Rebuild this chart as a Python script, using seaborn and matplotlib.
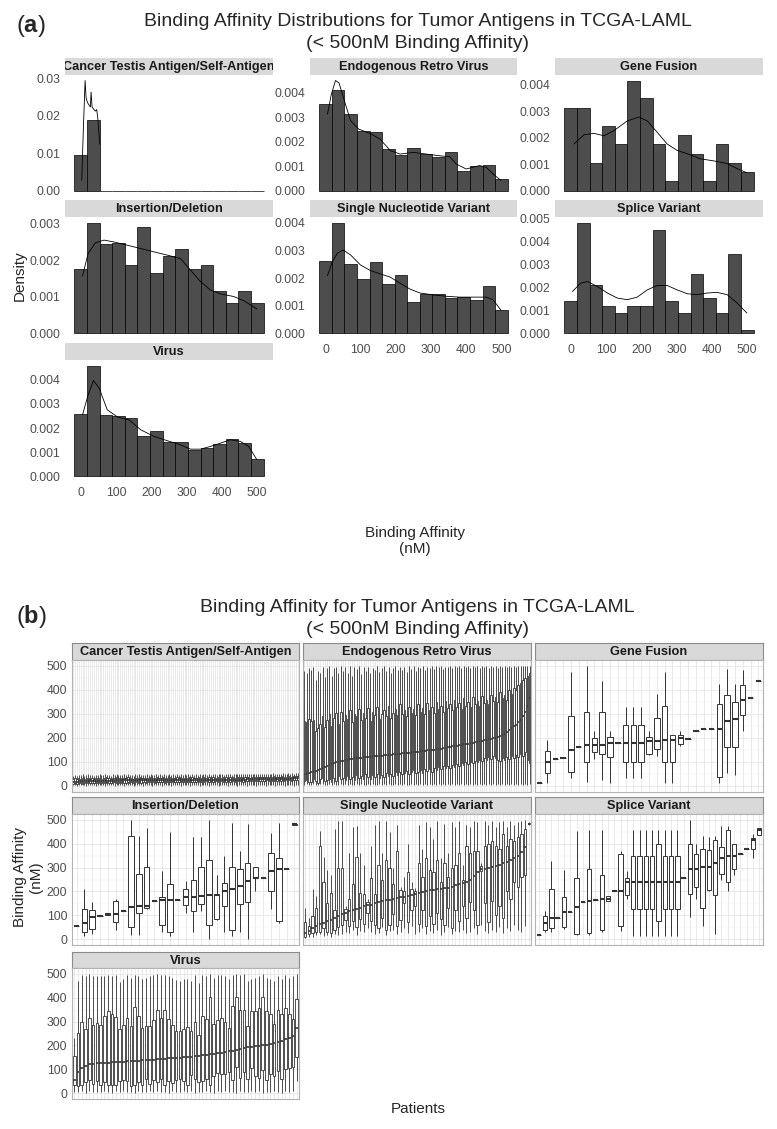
import numpy as np
import pandas as pd
import matplotlib
matplotlib.use("Agg")
import matplotlib.pyplot as plt
from matplotlib.ticker import MultipleLocator
import seaborn as sns

W, H = 777, 1129

# ---------------- (a) histogram data (density per bin)
bin_centres = [0, 35.7, 71.4, 107.1, 142.9, 178.6, 214.3, 250, 285.7, 321.4, 357.1, 392.9, 428.6, 464.3, 500]

hist_cta = [0.0095, 0.0190, 0, 0, 0, 0, 0, 0, 0, 0, 0, 0, 0, 0, 0]
hist_erv = [0.00355, 0.00411, 0.00312, 0.00244, 0.00239, 0.00168, 0.00144, 0.00174,
            0.00149, 0.00136, 0.00159, 0.00081, 0.00099, 0.00104, 0.00046]
hist_gf = [0.00313, 0.00313, 0.00103, 0.00244, 0.00174, 0.00416, 0.00348, 0.00174,
           0.00036, 0.00209, 0.00139, 0.00036, 0.00174, 0.00103, 0.00071]
hist_indel = [0.00176, 0.00303, 0.00244, 0.00246, 0.00186, 0.00291, 0.00164, 0.00212,
              0.00232, 0.00176, 0.00186, 0.00117, 0.00083, 0.00117, 0.00083]
hist_snv = [0.00263, 0.00400, 0.00251, 0.00197, 0.00257, 0.00178, 0.00210, 0.00112,
            0.00144, 0.00144, 0.00127, 0.00130, 0.00121, 0.00171, 0.00086]
hist_splice = [0.00140, 0.00483, 0.00209, 0.00120, 0.00087, 0.00120, 0.00120, 0.00450,
               0.00140, 0.00087, 0.00260, 0.00155, 0.00087, 0.00345, 0.00017]
hist_virus = [0.00259, 0.00459, 0.00255, 0.00251, 0.00241, 0.00168, 0.00189, 0.00141,
              0.00143, 0.00108, 0.00117, 0.00134, 0.00157, 0.00138, 0.00072]

# density curves (x in nM, y density)
kde_cta_x = [2.8, 7.5, 12.3, 15.1, 18.9, 23.6, 27.4, 29.2, 32.1, 36.8, 41.5, 45.3, 49.1, 53.8]
kde_cta_y = [0.0027, 0.0169, 0.0295, 0.0249, 0.0236, 0.0229, 0.0224, 0.0264, 0.0224, 0.0218,
             0.0213, 0.0217, 0.0186, 0.0124]
kde_erv_x = [5, 16, 28, 38, 52, 71, 94, 127, 155, 184, 212, 250, 287, 325, 353, 372, 400, 438, 457, 476, 499]
kde_erv_y = [0.00312, 0.00393, 0.00450, 0.00440, 0.00373, 0.00285, 0.00251, 0.00233, 0.00210, 0.00163,
             0.00149, 0.00156, 0.00149, 0.00142, 0.00138, 0.00108, 0.00088, 0.00102, 0.00095, 0.00068, 0.00041]
kde_gf_x = [9, 38, 66, 94, 122, 160, 193, 217, 245, 273, 301, 330, 367, 405, 443, 471, 499]
kde_gf_y = [0.00176, 0.00211, 0.00216, 0.00207, 0.00226, 0.00263, 0.00278, 0.00263, 0.00220,
            0.00176, 0.00152, 0.00139, 0.00120, 0.00112, 0.00102, 0.00083, 0.00067]
kde_indel_x = [5, 21, 42, 66, 94, 132, 170, 207, 245, 282, 311, 339, 367, 396, 433, 461, 499]
kde_indel_y = [0.00157, 0.00219, 0.00248, 0.00255, 0.00250, 0.00241, 0.00232, 0.00223, 0.00214,
               0.00205, 0.00173, 0.00142, 0.00119, 0.00108, 0.00101, 0.00090, 0.00067]
kde_snv_x = [5, 19, 33, 50, 71, 99, 127, 155, 184, 212, 240, 268, 306, 344, 381, 419, 457, 476, 499]
kde_snv_y = [0.00208, 0.00259, 0.00289, 0.00301, 0.00283, 0.00247, 0.00227, 0.00215, 0.00203, 0.00181,
             0.00160, 0.00146, 0.00139, 0.00134, 0.00131, 0.00131, 0.00131, 0.00122, 0.00084]
kde_splice_x = [5, 28, 47, 75, 104, 132, 160, 188, 217, 245, 273, 301, 330, 358, 386, 414, 443, 471, 499]
kde_splice_y = [0.00183, 0.00219, 0.00226, 0.00205, 0.00176, 0.00154, 0.00147, 0.00158, 0.00190, 0.00209,
                0.00209, 0.00190, 0.00173, 0.00169, 0.00176, 0.00179, 0.00169, 0.00133, 0.00089]
kde_virus_x = [5, 21, 36, 52, 75, 104, 137, 170, 207, 245, 282, 311, 339, 367, 396, 424, 452, 476, 499]
kde_virus_y = [0.00255, 0.00338, 0.00397, 0.00366, 0.00276, 0.00246, 0.00234, 0.00193, 0.00166, 0.00148,
               0.00131, 0.00113, 0.00113, 0.00124, 0.00138, 0.00152, 0.00145, 0.00124, 0.00069]

# ---------------- (b) per patient box stats: (lower whisker, Q1, median, Q3, upper whisker)
box_cta = [
    (3, 10, 17, 30, 42), (5, 12, 18, 32, 45), (2, 9, 18, 29, 40), (4, 11, 19, 33, 46), (6, 13, 19, 31, 44),
    (3, 10, 19, 34, 48), (5, 12, 20, 30, 43), (2, 11, 20, 32, 45), (4, 13, 20, 35, 49), (6, 12, 20, 31, 44),
    (3, 11, 21, 33, 46), (5, 14, 21, 30, 42), (2, 12, 21, 34, 47), (4, 13, 21, 32, 45), (6, 11, 21, 35, 50),
    (3, 14, 22, 31, 44), (5, 12, 22, 33, 46), (2, 13, 22, 36, 49), (4, 15, 22, 32, 45), (6, 12, 22, 34, 47),
    (3, 14, 22, 31, 43), (5, 13, 22, 35, 48), (2, 15, 22, 33, 46), (4, 12, 23, 36, 50), (6, 14, 23, 32, 45),
    (3, 13, 23, 34, 47), (5, 16, 23, 31, 44), (2, 14, 23, 35, 48), (4, 12, 23, 33, 46), (6, 15, 23, 36, 49),
    (3, 13, 23, 32, 45), (5, 16, 23, 34, 47), (2, 14, 23, 31, 43), (4, 15, 23, 35, 48), (6, 13, 24, 33, 46),
    (3, 16, 24, 36, 50), (5, 14, 24, 32, 45), (2, 15, 24, 34, 47), (4, 17, 24, 31, 44), (6, 14, 24, 35, 48),
    (3, 16, 24, 33, 46), (5, 15, 24, 36, 49), (2, 17, 24, 32, 45), (4, 14, 24, 34, 47), (6, 16, 24, 37, 50),
    (3, 15, 24, 33, 46), (5, 17, 24, 35, 48), (2, 15, 25, 32, 45), (4, 16, 25, 36, 49), (6, 14, 25, 34, 47),
    (3, 17, 25, 33, 46), (5, 15, 25, 37, 50), (2, 16, 25, 32, 45), (4, 18, 25, 35, 48), (6, 15, 25, 34, 47),
    (3, 17, 25, 36, 49), (5, 16, 25, 33, 46), (2, 18, 25, 37, 50), (4, 15, 25, 34, 47), (6, 17, 25, 35, 48),
    (3, 16, 25, 33, 46), (5, 18, 25, 36, 49), (2, 17, 25, 34, 47), (4, 16, 26, 37, 50), (6, 18, 26, 33, 46),
    (3, 17, 26, 35, 48), (5, 19, 26, 34, 47), (2, 16, 26, 36, 49), (4, 18, 26, 33, 46), (6, 17, 26, 37, 50),
    (3, 19, 26, 35, 48), (5, 18, 26, 34, 47), (2, 17, 26, 36, 49), (4, 19, 26, 33, 46), (6, 18, 26, 38, 51),
    (3, 17, 26, 35, 48), (5, 19, 26, 34, 47), (2, 18, 26, 37, 50), (4, 20, 27, 35, 48), (6, 18, 27, 36, 49),
    (3, 19, 27, 34, 47), (5, 17, 27, 38, 51), (2, 20, 27, 35, 48), (4, 18, 27, 36, 49), (6, 19, 27, 34, 47),
    (3, 21, 27, 38, 51), (5, 18, 27, 35, 48), (2, 20, 27, 37, 50), (4, 19, 27, 36, 49), (6, 21, 27, 38, 51),
    (3, 18, 27, 35, 48), (5, 20, 27, 37, 50), (2, 19, 28, 36, 49), (4, 21, 28, 38, 51), (6, 20, 28, 35, 48),
    (3, 19, 28, 37, 50), (5, 22, 28, 36, 49), (2, 20, 28, 39, 52), (4, 21, 28, 37, 50), (6, 19, 28, 36, 49),
    (3, 22, 28, 38, 51), (5, 20, 28, 37, 50), (2, 21, 29, 39, 52), (4, 23, 29, 36, 49), (6, 21, 29, 38, 51),
    (3, 22, 29, 37, 50), (5, 20, 29, 40, 53), (2, 23, 29, 38, 51), (4, 21, 29, 37, 50), (6, 24, 30, 39, 52),
    (3, 22, 30, 38, 51), (5, 23, 30, 40, 53), (2, 21, 30, 37, 50), (4, 24, 30, 39, 52), (6, 23, 31, 41, 54),
    (3, 22, 31, 38, 51), (5, 25, 32, 40, 53), (2, 24, 32, 39, 52), (4, 26, 33, 41, 54), (6, 25, 34, 42, 55),
]

box_erv = [
    (5, 20, 50, 270, 480), (8, 25, 52, 265, 470), (4, 18, 55, 280, 490), (6, 15, 58, 270, 485), (10, 30, 60, 275, 495),
    (5, 22, 63, 230, 440), (3, 12, 67, 240, 480), (7, 28, 72, 260, 470), (9, 35, 76, 290, 495), (4, 20, 80, 245, 455),
    (6, 25, 84, 275, 490), (8, 30, 88, 300, 498), (5, 18, 92, 250, 460), (7, 33, 95, 285, 490), (3, 22, 98, 305, 495),
    (6, 40, 101, 260, 470), (9, 28, 104, 310, 499), (4, 35, 106, 270, 480), (8, 25, 108, 295, 496), (5, 42, 110, 280, 470),
    (7, 30, 112, 315, 498), (4, 38, 113, 265, 460), (6, 27, 115, 300, 494), (9, 45, 116, 290, 488), (5, 33, 117, 320, 499),
    (8, 40, 118, 275, 465), (3, 29, 119, 305, 495), (6, 48, 120, 285, 480), (7, 36, 121, 325, 497), (4, 31, 122, 270, 470),
    (9, 44, 123, 310, 492), (5, 37, 124, 295, 485), (6, 52, 125, 330, 499), (8, 34, 126, 280, 475), (4, 46, 127, 300, 490),
    (7, 39, 128, 315, 498), (5, 55, 129, 290, 480), (9, 41, 130, 335, 496), (6, 50, 131, 285, 470), (3, 43, 132, 305, 493),
    (8, 57, 133, 320, 499), (5, 45, 134, 295, 482), (7, 60, 135, 340, 497), (4, 48, 136, 300, 485), (9, 53, 137, 315, 495),
    (6, 62, 138, 290, 475), (5, 49, 139, 330, 498), (8, 58, 140, 305, 488), (3, 65, 141, 320, 499), (7, 54, 142, 295, 480),
    (6, 60, 143, 340, 496), (9, 68, 144, 310, 490), (4, 56, 145, 325, 499), (8, 70, 146, 300, 482), (5, 63, 148, 345, 497),
    (7, 72, 149, 315, 492), (6, 59, 150, 330, 499), (9, 75, 152, 305, 486), (4, 66, 153, 350, 498), (8, 78, 155, 320, 494),
    (5, 70, 156, 335, 499), (7, 82, 158, 310, 488), (6, 74, 159, 355, 497), (9, 85, 161, 325, 495), (4, 77, 163, 340, 499),
    (8, 88, 165, 315, 490), (5, 80, 166, 360, 498), (7, 92, 168, 330, 496), (6, 84, 170, 345, 499), (9, 95, 172, 320, 492),
    (4, 88, 173, 365, 498), (8, 98, 175, 335, 495), (5, 92, 177, 350, 499), (7, 102, 179, 330, 490), (6, 95, 181, 370, 498),
    (9, 105, 183, 340, 496), (4, 99, 185, 355, 499), (8, 110, 186, 335, 492), (5, 103, 188, 375, 498), (7, 115, 190, 345, 495),
    (6, 108, 192, 360, 499), (9, 120, 194, 340, 490), (4, 112, 196, 380, 498), (8, 125, 198, 355, 496), (5, 118, 200, 370, 499),
    (7, 110, 203, 350, 492), (6, 104, 207, 390, 498), (9, 115, 212, 365, 496), (4, 108, 218, 380, 499), (8, 120, 225, 360, 494),
    (5, 112, 233, 400, 499), (7, 125, 240, 385, 497), (6, 118, 248, 410, 499), (9, 130, 256, 400, 496), (4, 120, 265, 420, 499),
    (8, 135, 275, 430, 498), (5, 125, 290, 440, 499), (7, 140, 310, 450, 499), (6, 110, 335, 460, 499), (9, 95, 365, 470, 499),
]

box_gf = [
    (11, 11, 11, 11, 11), (11, 55, 102, 147, 193), (113, 113, 113, 113, 113), (115, 115, 115, 115, 115),
    (35, 60, 150, 291, 473), (161, 161, 161, 161, 161), (15, 102, 169, 310, 499), (112, 140, 172, 200, 231),
    (25, 134, 172, 310, 438), (11, 120, 179, 203, 228), (178, 178, 178, 178, 178), (32, 102, 179, 253, 329),
    (32, 102, 179, 253, 329), (32, 102, 179, 253, 329), (130, 134, 186, 203, 228), (123, 154, 186, 284, 382),
    (11, 99, 193, 333, 473), (11, 99, 193, 211, 214), (165, 176, 200, 211, 231), (197, 197, 197, 197, 197),
    (231, 231, 231, 231, 231), (239, 239, 239, 239, 239), (239, 239, 239, 239, 239), (11, 39, 239, 340, 424),
    (53, 161, 270, 380, 487), (46, 161, 280, 352, 427), (228, 294, 357, 420, 485), (368, 368, 368, 368, 368),
    (438, 438, 438, 438, 438),
]

box_indel = [
    (56, 56, 56, 56, 56), (14, 31, 66, 128, 212), (21, 42, 91, 122, 154), (98, 98, 98, 98, 98),
    (99, 101, 105, 108, 110), (39, 70, 105, 161, 170), (116, 116, 116, 116, 116), (17, 49, 135, 433, 499),
    (17, 109, 140, 275, 433), (128, 130, 140, 304, 468), (161, 161, 161, 161, 161), (31, 59, 165, 175, 284),
    (11, 31, 165, 230, 451), (165, 165, 165, 165, 165), (109, 142, 176, 209, 244), (31, 119, 176, 250, 427),
    (119, 149, 182, 304, 427), (0, 60, 184, 331, 499), (81, 84, 186, 189, 268), (31, 140, 200, 237, 349),
    (14, 39, 209, 304, 489), (28, 147, 221, 293, 370), (0, 156, 244, 318, 482), (200, 256, 258, 304, 304),
    (258, 258, 258, 258, 258), (126, 203, 284, 363, 444), (66, 77, 293, 341, 489), (293, 293, 293, 293, 293),
    (478, 480, 482, 485, 488),
]

box_snv = [
    (5, 10, 25, 70, 130), (8, 20, 35, 55, 90), (10, 25, 45, 95, 210), (15, 30, 56, 130, 180), (20, 28, 62, 390, 454),
    (12, 45, 68, 240, 345), (18, 30, 74, 150, 290), (10, 25, 82, 195, 270), (22, 40, 90, 120, 460), (15, 50, 97, 300, 495),
    (20, 60, 104, 300, 495), (30, 80, 110, 125, 140), (25, 55, 117, 170, 360), (40, 75, 122, 230, 470), (18, 50, 127, 345, 475),
    (35, 85, 132, 195, 360), (28, 65, 137, 190, 310), (45, 110, 141, 155, 170), (30, 75, 145, 255, 390), (20, 60, 150, 190, 480),
    (25, 45, 155, 310, 495), (50, 90, 160, 250, 360), (15, 40, 163, 330, 495), (35, 60, 166, 300, 450), (40, 105, 169, 230, 300),
    (20, 55, 172, 370, 480), (30, 80, 175, 205, 220), (45, 150, 178, 200, 260), (25, 70, 181, 280, 400), (55, 120, 184, 210, 240),
    (20, 140, 188, 200, 215), (30, 65, 192, 320, 480), (45, 120, 196, 260, 380), (20, 55, 200, 340, 490), (35, 95, 205, 290, 470),
    (25, 65, 207, 280, 420), (40, 110, 209, 330, 495), (18, 85, 211, 240, 340), (30, 60, 213, 320, 485), (50, 130, 215, 260, 360),
    (22, 45, 220, 300, 490), (35, 120, 226, 310, 470), (28, 75, 232, 360, 495), (40, 140, 236, 250, 310), (25, 90, 240, 390, 480),
    (30, 155, 250, 360, 470), (45, 120, 265, 370, 495), (20, 60, 280, 370, 490), (60, 285, 292, 305, 320), (35, 150, 296, 390, 495),
    (25, 70, 300, 400, 480), (40, 160, 304, 410, 495), (30, 100, 308, 390, 470), (50, 140, 312, 380, 490), (25, 90, 318, 440, 495),
    (45, 200, 324, 390, 470), (35, 170, 330, 420, 495), (60, 240, 340, 410, 480), (40, 220, 350, 430, 490), (30, 260, 365, 440, 495),
    (55, 270, 385, 460, 498), (480, 482, 485, 488, 490),
]

box_splice = [
    (17, 17, 17, 17, 17), (28, 38, 67, 98, 119), (28, 45, 87, 209, 328), (87, 87, 87, 87, 87),
    (42, 49, 112, 177, 289), (112, 112, 112, 112, 112), (17, 21, 135, 258, 454), (154, 154, 154, 154, 154),
    (17, 25, 161, 296, 457), (165, 165, 165, 165, 165), (28, 39, 170, 268, 457), (158, 161, 170, 179, 182),
    (203, 203, 203, 203, 203), (35, 56, 203, 356, 370), (170, 184, 240, 256, 286), (14, 128, 240, 349, 457),
    (14, 128, 240, 349, 457), (14, 128, 240, 349, 457), (14, 128, 240, 349, 457), (14, 74, 240, 401, 457),
    (14, 128, 240, 349, 457), (14, 128, 240, 349, 457), (14, 128, 240, 349, 457), (258, 258, 258, 258, 258),
    (91, 191, 293, 398, 499), (170, 219, 293, 356, 398), (56, 130, 303, 380, 433), (200, 207, 304, 373, 429),
    (21, 184, 318, 415, 433), (250, 272, 342, 388, 475), (200, 240, 349, 457, 475), (270, 296, 349, 401, 401),
    (359, 359, 359, 359, 359), (380, 380, 380, 380, 380), (342, 377, 415, 423, 440), (436, 436, 457, 468, 468),
]

box_virus = [
    (5, 32, 56, 154, 233), (3, 30, 90, 254, 470), (8, 35, 105, 300, 495), (2, 45, 115, 270, 490), (10, 55, 122, 315, 500),
    (4, 38, 124, 285, 490), (6, 50, 125, 295, 490), (3, 35, 126, 285, 490), (8, 48, 127, 325, 492), (5, 32, 128, 345, 495),
    (2, 35, 129, 330, 490), (7, 32, 130, 320, 495), (4, 50, 131, 270, 465), (9, 55, 132, 285, 480), (3, 52, 133, 315, 495),
    (6, 30, 134, 280, 485), (2, 34, 135, 362, 495), (8, 48, 136, 325, 490), (5, 32, 137, 275, 480), (3, 58, 138, 280, 485),
    (7, 36, 139, 280, 490), (4, 56, 140, 305, 495), (9, 45, 141, 348, 500), (3, 60, 142, 315, 495), (6, 33, 144, 350, 495),
    (2, 50, 146, 310, 490), (8, 42, 147, 285, 485), (5, 55, 148, 260, 475), (3, 60, 149, 260, 470), (7, 52, 150, 270, 480),
    (4, 35, 151, 278, 480), (9, 75, 152, 260, 470), (2, 58, 154, 300, 495), (6, 45, 156, 245, 460), (3, 50, 158, 325, 495),
    (8, 60, 160, 310, 490), (5, 35, 162, 405, 500), (2, 70, 165, 290, 485), (7, 85, 167, 305, 495), (4, 78, 170, 315, 495),
    (9, 80, 173, 300, 490), (3, 90, 175, 275, 480), (6, 55, 178, 365, 495), (2, 110, 182, 405, 500), (8, 65, 186, 350, 495),
    (5, 90, 190, 350, 498), (3, 60, 193, 280, 470), (7, 105, 195, 345, 480), (4, 72, 197, 345, 485), (9, 65, 199, 355, 490),
    (2, 95, 200, 405, 500), (6, 55, 203, 345, 485), (3, 80, 207, 330, 480), (8, 70, 212, 290, 470), (5, 92, 215, 350, 490),
    (2, 60, 219, 330, 480), (7, 100, 225, 355, 495), (4, 105, 232, 330, 485), (9, 110, 240, 310, 490), (50, 150, 271, 393, 500),
]

sns.set_style("white")
plt.rcParams["font.family"] = ["Liberation Sans", "DejaVu Sans"]
plt.rcParams["mathtext.fontset"] = "custom"
plt.rcParams["mathtext.rm"] = "Liberation Sans"
plt.rcParams["mathtext.bf"] = "Liberation Sans:bold"

fig = plt.figure(figsize=(W / 100, H / 100), dpi=100)


def px_rect(left, top, right, bottom):
    return [left / W, 1 - bottom / H, (right - left) / W, (bottom - top) / H]


def add_strip(left, top, right, bottom, label, border):
    sax = fig.add_axes(px_rect(left, top, right, bottom))
    sax.set_facecolor("#D9D9D9")
    sax.set_xticks([])
    sax.set_yticks([])
    for sp in sax.spines.values():
        sp.set_visible(border)
        sp.set_color("#8C8C8C")
        sp.set_linewidth(0.8)
    sax.text(0.5, 0.46, label, ha="center", va="center", fontsize=9.2, fontweight="bold",
             color="#1A1A1A", transform=sax.transAxes, clip_on=True)


# ---------------- (a) distributions
bin_w = bin_centres[1] - bin_centres[0]
bin_edges = [c - bin_w / 2 for c in bin_centres] + [bin_centres[-1] + bin_w / 2]
x_span = bin_edges[-1] - bin_edges[0]

facets_a = [
    ("Cancer Testis Antigen/Self-Antigen", hist_cta, kde_cta_x, kde_cta_y),
    ("Endogenous Retro Virus", hist_erv, kde_erv_x, kde_erv_y),
    ("Gene Fusion", hist_gf, kde_gf_x, kde_gf_y),
    ("Insertion/Deletion", hist_indel, kde_indel_x, kde_indel_y),
    ("Single Nucleotide Variant", hist_snv, kde_snv_x, kde_snv_y),
    ("Splice Variant", hist_splice, kde_splice_x, kde_splice_y),
    ("Virus", hist_virus, kde_virus_x, kde_virus_y),
]
cols_a = [(65, 273), (310, 517), (555, 763)]
rows_a = [(58, 75, 196), (200, 217, 339), (343, 360, 482)]
bottom_a = {0: 2, 1: 1, 2: 1}  # last row index per column

for k, (name, heights, kx, ky) in enumerate(facets_a):
    r, c = divmod(k, 3)
    left, right = cols_a[c]
    s_top, p_top, p_bot = rows_a[r]
    add_strip(left, s_top, right, p_top, name, False)
    ax = fig.add_axes(px_rect(left, p_top, right, p_bot))
    sns.histplot(x=bin_centres, weights=heights, bins=bin_edges, stat="count",
                 color="#4D4D4D", edgecolor="black", linewidth=0.5, alpha=1, ax=ax)
    sns.lineplot(x=kx, y=ky, color="black", linewidth=0.6, ax=ax)
    top = max(max(heights), max(ky))
    ax.set_ylim(-0.05 * top, 1.05 * top)
    ax.set_xlim(bin_edges[0] - 0.05 * x_span, bin_edges[-1] + 0.05 * x_span)
    step = 0.01 if top > 0.01 else 0.001
    yt = np.arange(0, 1.05 * top, step)
    ax.set_yticks(yt)
    ax.set_yticklabels([f"{v:.2f}" if step == 0.01 else f"{v:.3f}" for v in yt])
    ax.set_xlabel("")
    ax.set_ylabel("")
    for sp in ax.spines.values():
        sp.set_visible(False)
    ax.tick_params(axis="both", length=2, width=0.5, color="#333333", labelsize=8.7,
                   labelcolor="#4D4D4D", pad=1.5)
    if r == bottom_a[c]:
        ax.set_xticks([0, 100, 200, 300, 400, 500])
    else:
        ax.set_xticks([])

fig.text(31 / W, 1 - 26 / H, r"($\mathbf{a}$)", fontsize=17, ha="center", va="center")
fig.text(418 / W, 1 - 22 / H, "Binding Affinity Distributions for Tumor Antigens in TCGA-LAML",
         fontsize=14, ha="center", va="center")
fig.text(418 / W, 1 - 44 / H, "(< 500nM Binding Affinity)", fontsize=14, ha="center", va="center")
fig.text(20 / W, 1 - 276 / H, "Density", fontsize=11, rotation=90, ha="center", va="center")
fig.text(415 / W, 1 - 541 / H, "Binding Affinity\n(nM)", fontsize=11, ha="center", va="center",
         linespacing=1.1)

# ---------------- (b) box plots per patient
facets_b = [
    ("Cancer Testis Antigen/Self-Antigen", box_cta),
    ("Endogenous Retro Virus", box_erv),
    ("Gene Fusion", box_gf),
    ("Insertion/Deletion", box_indel),
    ("Single Nucleotide Variant", box_snv),
    ("Splice Variant", box_splice),
    ("Virus", box_virus),
]
cols_b = [(72, 299), (303, 531), (535, 763)]
rows_b = [(643, 660, 792), (797, 814, 945), (952, 968, 1099)]

for k, (name, boxes) in enumerate(facets_b):
    r, c = divmod(k, 3)
    left, right = cols_b[c]
    s_top, p_top, p_bot = rows_b[r]
    add_strip(left, s_top, right, p_top, name, True)
    ax = fig.add_axes(px_rect(left, p_top, right, p_bot))
    n = len(boxes)
    df = pd.DataFrame([(i, v) for i, b in enumerate(boxes) for v in b], columns=["patient", "affinity"])
    dense = n >= 45
    sns.boxplot(data=df, x="patient", y="affinity", whis=(0, 100), width=0.7, color="white",
                linecolor="#333333", linewidth=0.6 if dense else 0.7, fliersize=0, showcaps=False,
                medianprops={"linewidth": 1.2 if dense else 1.5}, ax=ax)
    ax.set_xlim(-0.6, n - 0.4)
    ax.set_ylim(-25, 525)
    ax.set_xticks(range(n))
    ax.set_xticklabels([])
    ax.set_yticks([0, 100, 200, 300, 400, 500])
    ax.yaxis.set_minor_locator(MultipleLocator(50))
    ax.grid(True, which="major", color="#E2E2E2", linewidth=0.5)
    ax.grid(True, which="minor", axis="y", color="#EFEFEF", linewidth=0.35)
    ax.set_axisbelow(True)
    ax.set_xlabel("")
    ax.set_ylabel("")
    for sp in ax.spines.values():
        sp.set_color("#B3B3B3")
        sp.set_linewidth(0.8)
    ax.tick_params(axis="both", which="major", length=2, width=0.5, color="#333333",
                   labelsize=8.7, labelcolor="#4D4D4D", pad=1.5)
    ax.tick_params(axis="y", which="minor", length=0)
    if c != 0:
        ax.tick_params(axis="y", which="major", length=0, labelleft=False)

fig.text(31 / W, 1 - 617 / H, r"($\mathbf{b}$)", fontsize=17, ha="center", va="center")
fig.text(417 / W, 1 - 608 / H, "Binding Affinity for Tumor Antigens in TCGA-LAML",
         fontsize=14, ha="center", va="center")
fig.text(417 / W, 1 - 629 / H, "(< 500nM Binding Affinity)", fontsize=14, ha="center", va="center")
fig.text(28 / W, 1 - 877 / H, "Binding Affinity\n(nM)", fontsize=11, rotation=90, ha="center",
         va="center", linespacing=1.1)
fig.text(418 / W, 1 - 1109 / H, "Patients", fontsize=11, ha="center", va="center")

fig.savefig("out.png", dpi=100)
